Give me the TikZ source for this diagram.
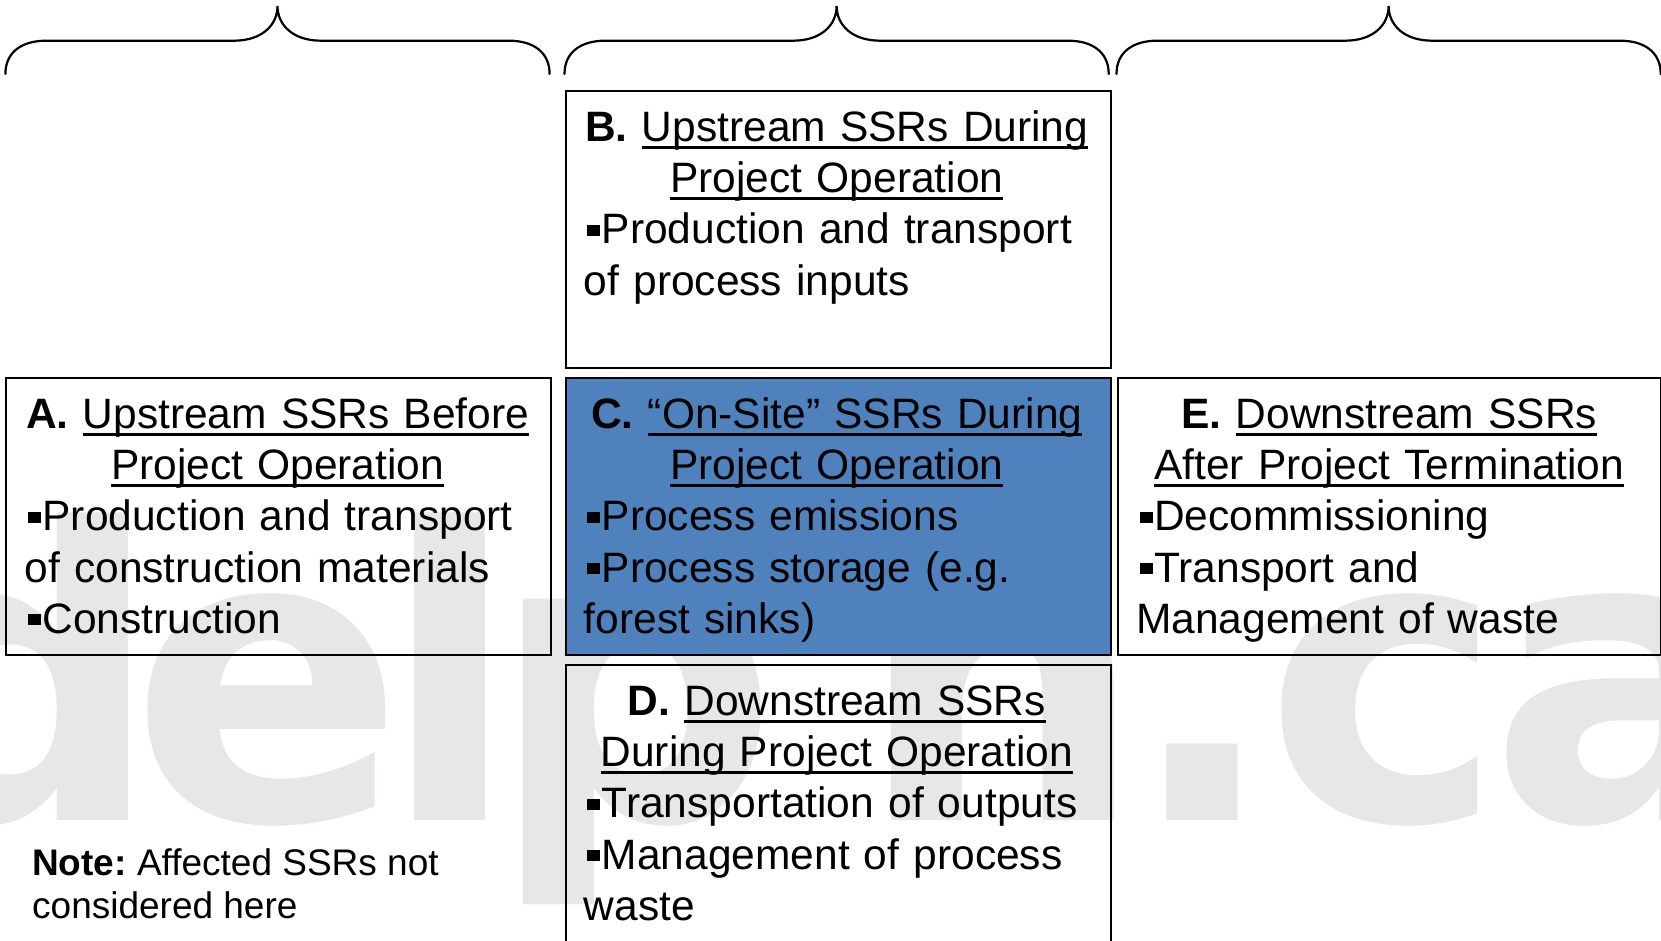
\documentclass[tikz,border=0pt]{standalone}
\usepackage{fontspec}
\setmainfont{Liberation Sans}
\newfontfamily\wmfam{DejaVu Sans}
\usetikzlibrary{calc}
\frenchspacing
\definecolor{cblue}{RGB}{79,129,189}
\definecolor{wmgrey}{RGB}{230,231,233}
\newcommand\mainsz{\fontsize{42.5}{51.1}\selectfont\parindent=0pt\relax}
\newcommand\notesz{\fontsize{37}{43}\selectfont}
\newcommand\wmsz{\wmfam\bfseries\fontsize{405}{405}\selectfont}
\newcommand\sqb{\leavevmode\kern3.5pt\rule[8pt]{13pt}{11pt}\kern1.5pt}
\newcommand\topstrut{\rule{0pt}{35pt}}
\newcommand\ulin[1]{\leavevmode\setbox0\hbox{#1}\rlap{\rule[-7pt]{\wd0}{3pt}}\box0}
\begin{document}
\begin{tikzpicture}[x=1pt,y=-1pt,
  box/.style={draw=black, line width=2pt, inner sep=0pt, anchor=north west},
  txt/.style={anchor=north west, inner sep=0pt, text width=506pt, font=\mainsz, xshift=19pt, yshift=-16.5pt},
  wm/.style={anchor=base, inner sep=0pt, text=wmgrey, font=\wmsz},
  brc/.style={line width=2.2pt, line cap=round}]
\useasboundingbox (0,0) rectangle (1661,940);
\clip (0,0) rectangle (1661,940);
% watermark
\node[wm] (w1) at (17,820) {d};
\node[wm] (w2) at (268,820) {e};
\node[wm] (w3) at (450,820) {l};
\node[wm] (w4) at (634,820) {p};
\node[wm] (w5) at (1002,820) {h};
\node[wm] (w6) at (1202,820) {.};
\node[wm] (w7) at (1385,820) {c};
\node[wm] (w8) at (1626,820) {a};
% boxes
\node[box, minimum width=544.5pt, minimum height=277pt] (A) at (5.4,377) {};
\node[box, minimum width=544.9pt, minimum height=277pt] (B) at (564.6,90) {};
\node[box, fill=cblue, minimum width=544.9pt, minimum height=277pt] (C) at (564.6,377) {};
\node[box, minimum width=544.9pt, minimum height=300pt] (D) at (564.6,664) {};
\node[box, minimum width=543pt, minimum height=277pt] (E) at (1117,377) {};
% texts
\node[txt] (tA) at (A.north west) {{\centering\topstrut\textbf{A.} \ulin{Upstream SSRs Before}\\\ulin{Project Operation}\par}\raggedright\sqb Production and transport\\of construction materials\\\sqb Construction};
\node[txt] (tB) at (B.north west) {{\centering\topstrut\textbf{B.} \ulin{Upstream SSRs During}\\\ulin{Project Operation}\par}\raggedright\sqb Production and transport\\of process inputs};
\node[txt] (tC) at (C.north west) {{\centering\topstrut\textbf{C.} \ulin{“On-Site” SSRs During}\\\ulin{Project Operation}\par}\raggedright\sqb Process emissions\\\sqb Process storage (e.g.\\forest sinks)};
\node[txt] (tD) at (D.north west) {{\centering\topstrut\textbf{D.} \ulin{Downstream SSRs}\\\ulin{During Project Operation}\par}\raggedright\sqb Transportation of outputs\\\sqb Management of process\\waste};
\node[txt] (tE) at (E.north west) {{\centering\topstrut\textbf{E.} \ulin{Downstream SSRs}\\\ulin{After Project Termination}\par}\raggedright\sqb Decommissioning\\\sqb Transport and\\Management of waste};
\node[anchor=north west, inner sep=0pt, font=\notesz, align=left] (note) at (32,845) {\rule{0pt}{30pt}\textbf{Note:} Affected SSRs not\\considered here};
% braces
\foreach \bx in {5.4,564.5,1116.5}
  \draw[brc, shift={(\bx,0)}] (0,74) .. controls (0,52) and (16.6,40.7) .. (40.6,40.7) -- (228.6,40.7) .. controls (256.6,40.7) and (272.1,25) .. (272.1,6) .. controls (272.1,25) and (287.6,40.7) .. (315.6,40.7) -- (503.6,40.7) .. controls (527.6,40.7) and (544.2,52) .. (544.2,74);
\end{tikzpicture}
\end{document}
